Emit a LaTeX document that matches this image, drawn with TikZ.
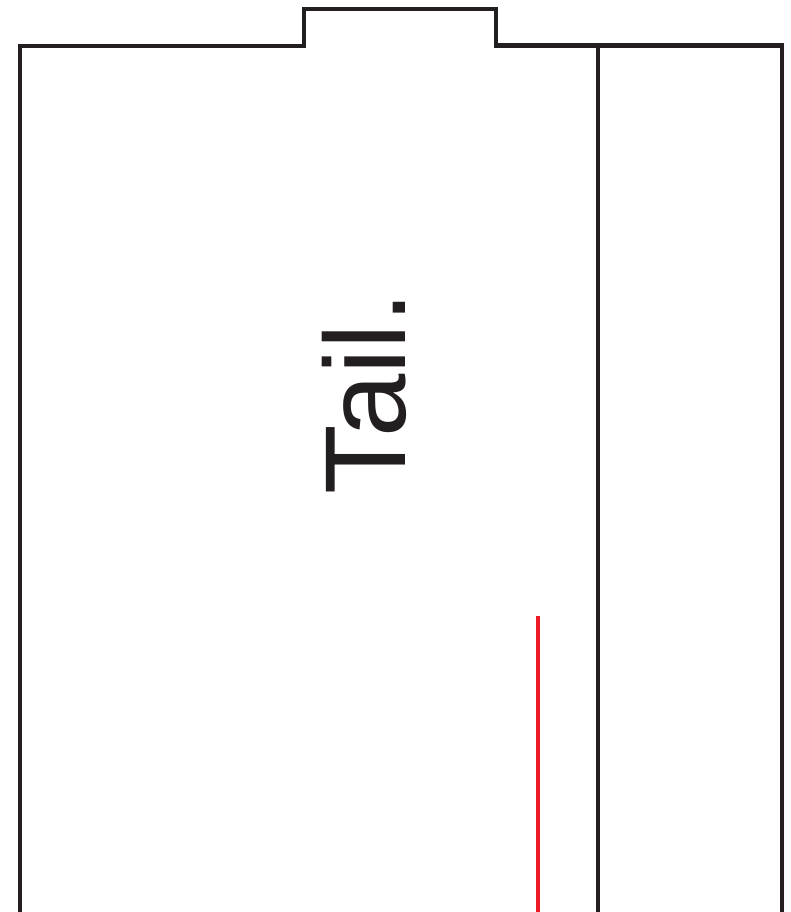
\documentclass[tikz,border=0pt]{standalone}
\usepackage{fontspec}
\setmainfont{Liberation Sans}
\definecolor{ink}{HTML}{231F20}
\definecolor{redline}{HTML}{ED1C24}
\begin{document}
\begin{tikzpicture}[x=1pt,y=-1pt,
  outline/.style={draw=ink,line width=4.8pt,line join=miter},
  cut/.style={draw=redline,line width=4.8pt},
  label/.style={font=\fontsize{115}{115}\selectfont,text=ink,rotate=90,anchor=base west,inner sep=0pt}]
\useasboundingbox (0,0) rectangle (790,912);
\coordinate (bl) at (20,915);
\coordinate (br) at (782,915);
\draw[outline] (bl) -- (20,46) -- (304,46) -- (304,9) -- (496,9) -- (496,45.5) -- (782,45.5) -- (br);
\coordinate (ft) at (598,45.5);
\coordinate (fb) at (598,915);
\draw[outline] (ft) -- (fb);
\coordinate (rt) at (538,616);
\coordinate (rb) at (538,915);
\draw[cut] (rt) -- (rb);
\node[label] (tail) at (405,495) {\scalebox{0.99}[1]{Tail.}};
\end{tikzpicture}
\end{document}
